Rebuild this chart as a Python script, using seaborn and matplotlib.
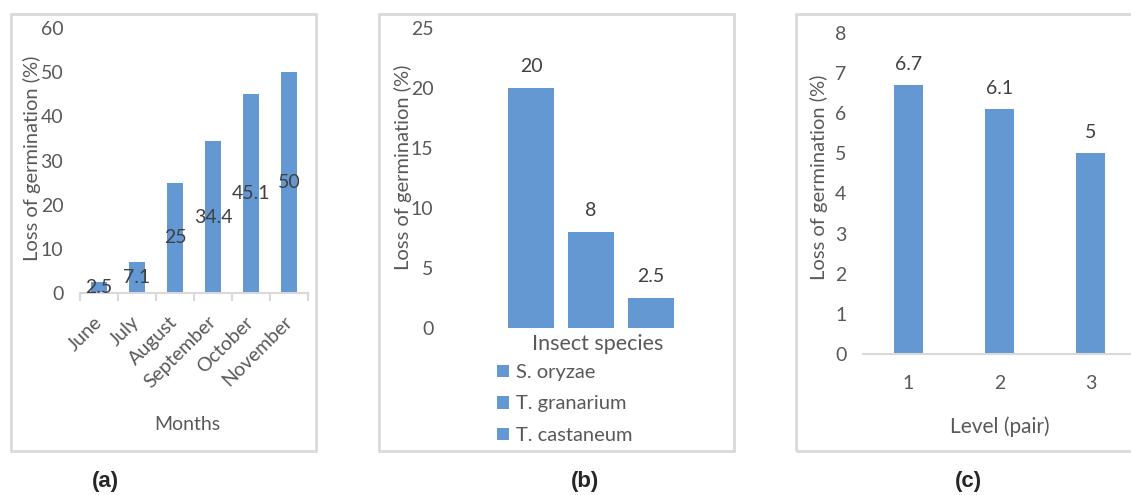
import pandas as pd
import matplotlib
matplotlib.use('Agg')
from matplotlib import pyplot as plt
from matplotlib.patches import Rectangle
import seaborn as sns

# data
months = ['June', 'July', 'August', 'September', 'October', 'November']
month_loss = [2.5, 7.1, 25, 34.4, 45.1, 50]

species = ['S. oryzae', 'T. granarium', 'T. castaneum']
species_loss = [20, 8, 2.5]

levels = ['1', '2', '3']
level_loss = [6.7, 6.1, 5]

captions = ['(a)', '(b)', '(c)']

W, H = 1131, 495
BLUE = '#6398D2'
TICK = '#595959'
LABEL = '#404040'
BOX = '#D9D9D9'
FS = 14

sns.set_style('white')
plt.rcParams['font.family'] = ['Lato', 'DejaVu Sans']

fig = plt.figure(figsize=(W / 100, H / 100), dpi=100)


def px_axes(left, top, right, bottom):
    return fig.add_axes([left / W, 1 - bottom / H, (right - left) / W, (bottom - top) / H])


def px_box(left, top, right, bottom):
    fig.patches.append(Rectangle((left / W, 1 - bottom / H), (right - left) / W, (bottom - top) / H,
                                 transform=fig.transFigure, fill=False, edgecolor=BOX, linewidth=2))


def common(ax):
    for s in ax.spines.values():
        s.set_visible(False)
    ax.tick_params(axis='y', length=0, pad=12, labelsize=FS, labelcolor=TICK)
    ax.tick_params(axis='x', labelcolor=TICK)


# panel boxes
px_box(11, 14, 316, 451)
px_box(379, 14, 734, 451)
px_box(796, 14, 1145, 451)

# ---- (a) months
ax1 = px_axes(80, 28, 308, 293)
sns.barplot(x=months, y=month_loss, color=BLUE, saturation=1, width=0.4,
            errorbar=None, linewidth=0, ax=ax1)
common(ax1)
ax1.set_ylim(0, 60)
ax1.set_yticks(range(0, 61, 10))
ax1.set_xlim(-0.5, 5.5)
ax1.spines['bottom'].set_visible(True)
ax1.spines['bottom'].set_color(BOX)
ax1.spines['bottom'].set_linewidth(1.5)
ax1.set_xticks([i - 0.5 for i in range(len(months) + 1)], minor=True)
ax1.tick_params(axis='x', which='minor', length=6, color=BOX, width=1.5, direction='out', bottom=True)
ax1.tick_params(axis='x', which='major', length=0, pad=19, labelsize=FS)
plt.setp(ax1.get_xticklabels(), rotation=45, ha='right', rotation_mode='anchor', va='center')
ax1.bar_label(ax1.containers[0], label_type='center', fmt='%g', fontsize=FS, color=LABEL)
ax1.set_xlabel('Months', fontsize=FS, color=TICK)
ax1.xaxis.set_label_coords(0.47, -0.465)
ax1.set_ylabel('Loss of germination (%)', fontsize=14.5, color=TICK)
ax1.yaxis.set_label_coords(-0.17, 0.51)

# ---- (b) insect species
df_b = pd.DataFrame({'group': ['Insect species'] * len(species),
                     'species': species, 'loss': species_loss})
ax2 = px_axes(450, 28, 732, 328)
sns.barplot(data=df_b, x='group', y='loss', hue='species', palette=[BLUE] * 3,
            saturation=1, width=0.8, gap=0.22, errorbar=None, linewidth=0, ax=ax2)
common(ax2)
ax2.set_ylim(0, 25)
ax2.set_yticks(range(0, 26, 5))
ax2.set_xlim(-0.627, 0.627)
ax2.set_xticks([])
for c in ax2.containers:
    ax2.bar_label(c, fmt='%g', padding=9, fontsize=FS, color=LABEL)
ax2.set_xlabel('Insect species', fontsize=15.5, color=TICK)
ax2.xaxis.set_label_coords(0.522, -0.02)
ax2.set_ylabel('Loss of germination (%)', fontsize=14.5, color=TICK)
ax2.yaxis.set_label_coords(-0.135, 0.537)
handles, labels = ax2.get_legend_handles_labels()
ax2.legend(handles, labels, loc='upper left', bbox_to_anchor=(497 / W, 1 - 364 / H),
           bbox_transform=fig.transFigure, frameon=False, fontsize=14.5, labelcolor=TICK,
           handlelength=0.6, handleheight=0.6, handletextpad=0.35, labelspacing=0.72,
           borderpad=0, borderaxespad=0)

# ---- (c) level (pair)
ax3 = px_axes(863, 33, 1136, 354)
sns.barplot(x=levels, y=level_loss, color=BLUE, saturation=1, width=0.31,
            errorbar=None, linewidth=0, ax=ax3)
common(ax3)
ax3.set_ylim(0, 8)
ax3.set_yticks(range(0, 9))
ax3.set_xlim(-0.5, 2.5)
ax3.spines['bottom'].set_visible(True)
ax3.spines['bottom'].set_color(BOX)
ax3.spines['bottom'].set_linewidth(1.5)
ax3.tick_params(axis='x', length=0, pad=15, labelsize=FS)
ax3.bar_label(ax3.containers[0], fmt='%g', padding=9, fontsize=FS, color=LABEL)
ax3.set_xlabel('Level (pair)', fontsize=15, color=TICK, labelpad=18)
ax3.set_ylabel('Loss of germination (%)', fontsize=14.5, color=TICK)
ax3.yaxis.set_label_coords(-0.128, 0.55)

# captions under the panels
for x, t in zip([105, 585, 968], captions):
    fig.text(x / W, 1 - 482 / H, t, ha='center', va='center', fontsize=16,
             fontweight='bold', family='Liberation Sans')

fig.savefig('out.png', dpi=100, facecolor='white')
